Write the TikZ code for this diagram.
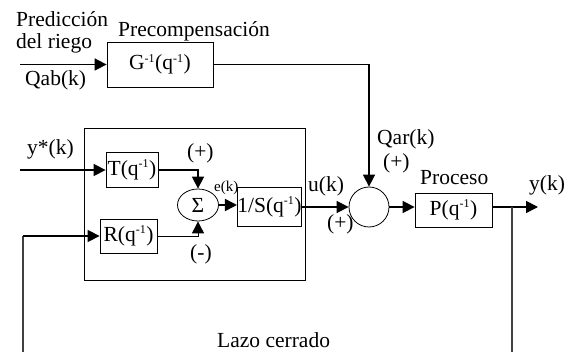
\documentclass[tikz,border=0pt]{standalone}
\usepackage{fontspec}
\setmainfont{Liberation Serif}
\usetikzlibrary{arrows.meta,shapes.geometric}
\newcommand{\myinv}{\textsuperscript{\fontsize{12}{12}\selectfont -1}}
\begin{document}
\begin{tikzpicture}[x=1pt,y=-1pt,
  font=\fontsize{21.5}{25}\selectfont,
  blk/.style={draw, line width=0.8pt, inner sep=0pt},
  lbl/.style={anchor=base west, inner sep=0pt},
  arr/.style={-{Triangle[length=12pt,width=12pt]}, line width=1.6pt},
  thinarr/.style={-{Triangle[length=12pt,width=12pt]}, line width=0.9pt},
  thinline/.style={line width=0.9pt},
  fbline/.style={line width=1.1pt, draw=black!75}]
\useasboundingbox (0,0) rectangle (569,352);
% blocks
\node[blk, minimum width=106pt, minimum height=45pt] (G) at (160,64.5) {G\myinv(q\myinv)};
\node[blk, minimum width=221pt, minimum height=152pt] (C) at (194.5,204) {};
\node[blk, minimum width=52pt, minimum height=35pt] (T) at (132,170) {T(q\myinv)};
\node[blk, minimum width=57pt, minimum height=34pt] (R) at (128.5,236) {R(q\myinv)};
\node[draw, ellipse, line width=0.8pt, inner sep=0pt, minimum width=41pt, minimum height=32pt] (S) at (198,205) {Σ};
\node[blk, minimum width=57pt, minimum height=39pt] (Si) at (269.5,207) {1/S(q\myinv)};
\node[draw, circle, line width=0.8pt, inner sep=0pt, minimum size=40pt] (S2) at (369,207) {};
\node[blk, minimum width=77pt, minimum height=34pt] (P) at (453.5,210) {P(q\myinv)};
% labels
\node[lbl] (l1) at (16,27) {Predicción};
\node[lbl] (l2) at (16,49) {del riego};
\node[lbl] (l3) at (25,86) {Qab(k)};
\node[lbl] (l4) at (118,37) {Precompensación};
\node[lbl] (l5) at (27,155) {y*(k)};
\node[lbl] (l6) at (187,159) {(+)};
\node[lbl] (l7) at (190,259) {(-)};
\node[lbl, font=\fontsize{15}{16}\selectfont] (l8) at (214,192) {e(k)};
\node[lbl] (l9) at (308,192) {u(k)};
\node[lbl] (l10) at (327,230) {(+)};
\node[lbl] (l11) at (377,145) {Qar(k)};
\node[lbl] (l12) at (383,169) {(+)};
\node[lbl] (l13) at (420,185) {Proceso};
\node[lbl] (l14) at (529,191) {y(k)};
\node[lbl] (l15) at (217,347) {Lazo cerrado};
% connectors
\coordinate (qin) at (20,64.5);
\draw[arr] (qin) -- (G.west);
\coordinate (gc) at (G.east -| S2);
\draw[thinline] (G.east) -- (gc);
\draw[arr] (gc) -- (S2.north);
\coordinate (yin) at (20,170);
\draw[arr] (yin) -- (T.west);
\draw[arr] (T.east) -| (S.north);
\draw[thinarr] (R.east) -| (S.south);
\draw[arr] (S.east) -- (Si.west |- S.east);
\draw[arr] (Si.east) -- (S2.west);
\draw[arr] (S2.east) -- (P.west |- S2.east);
\coordinate (yout) at (538,207);
\draw[arr] (P.east |- S2.east) -- (yout);
\coordinate (br) at (512,207);
\coordinate (fbR) at (512,352);
\draw[fbline] (br) -- (fbR);
\coordinate (fbL) at (23,352);
\coordinate (fbC) at (23,236);
\draw[fbline] (fbL) -- (fbC);
\draw[arr] (fbC) -- (R.west);
\end{tikzpicture}
\end{document}
